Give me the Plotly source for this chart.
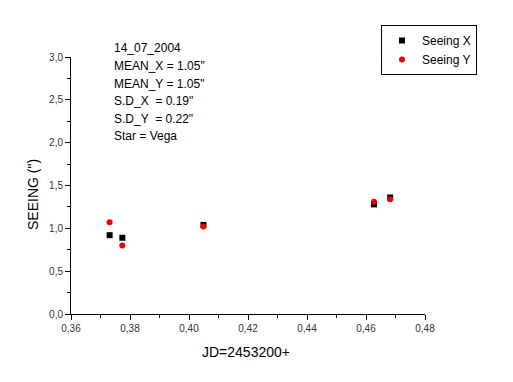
import plotly.graph_objects as go

jd = [0.3731, 0.3774, 0.4049, 0.4627, 0.4682]
seeing_x = [0.92, 0.89, 1.04, 1.28, 1.36]
seeing_y = [1.07, 0.80, 1.02, 1.31, 1.34]
info_lines = ["14_07_2004", "MEAN_X = 1.05\"", "MEAN_Y = 1.05\"",
              "S.D_X  = 0.19\"", "S.D_Y  = 0.22\"", "Star = Vega"]

FONT = "Liberation Sans, Arial, sans-serif"

# page body has an 8px margin; reference plot area spans x 71..425, y 57..314
OFF = 8
L, R, T, B = 71, 425, 57, 314
PW, PH = R - L, B - T

def px(x):
    return (x - L) / PW

def py(y):
    return (B - y) / PH

fig = go.Figure()
fig.add_trace(go.Scatter(x=jd, y=seeing_x, mode="markers", name="Seeing X",
                         marker=dict(symbol="square", size=6, color="black")))
fig.add_trace(go.Scatter(x=jd, y=seeing_y, mode="markers", name="Seeing Y",
                         marker=dict(symbol="circle", size=6, color="#f00000")))

axis_common = dict(showgrid=False, zeroline=False, showline=True, linecolor="black",
                   linewidth=1, ticks="outside", ticklen=5, tickcolor="black",
                   tickfont=dict(family=FONT, size=10, color="#333"), mirror=False)

fig.update_xaxes(range=[0.36, 0.48], dtick=0.02, tick0=0.36, tickformat=".2f",
                 minor=dict(ticks="outside", ticklen=3, dtick=0.01, tickcolor="black"),
                 **axis_common)
fig.update_yaxes(range=[0, 3.0], dtick=0.5, tick0=0, tickformat=".1f",
                 minor=dict(ticks="outside", ticklen=3, dtick=0.25, tickcolor="black"),
                 **axis_common)

line_y = [48.5, 66, 83.5, 101, 118.5, 136]
for txt, yy in zip(info_lines, line_y):
    fig.add_annotation(text=txt, xref="paper", yref="paper",
                       x=px(112), y=py(yy), xanchor="left", yanchor="middle",
                       align="left", showarrow=False,
                       font=dict(family=FONT, size=12, color="black"))
fig.add_annotation(text="JD=2453200+", xref="paper", yref="paper",
                   x=px(246), y=py(352), xanchor="center", yanchor="middle",
                   showarrow=False, font=dict(family=FONT, size=14, color="black"))
fig.add_annotation(text="SEEING (\")", xref="paper", yref="paper",
                   x=px(33), y=py(195), xanchor="center", yanchor="middle",
                   textangle=-90, showarrow=False, font=dict(family=FONT, size=14, color="black"))

fig.update_layout(
    width=513, height=382,
    margin=dict(l=L - OFF, r=513 + OFF - R, t=T - OFF, b=382 + OFF - B),
    paper_bgcolor="white", plot_bgcolor="white",
    separators=", ",
    showlegend=True,
    legend=dict(x=px(381), y=py(25), xanchor="left", yanchor="top",
                bordercolor="black", borderwidth=1, bgcolor="white",
                font=dict(family=FONT, size=12, color="black"),
                itemwidth=30, tracegroupgap=0),
    font=dict(family=FONT),
)

fig.write_html("out.html")
